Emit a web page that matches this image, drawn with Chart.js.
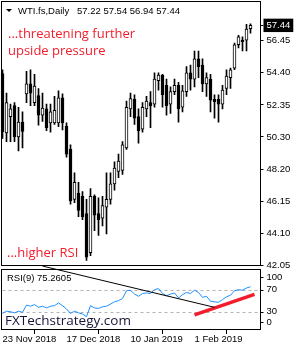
<!DOCTYPE html>
<html><head><meta charset="utf-8">
<script src="https://cdn.jsdelivr.net/npm/chart.js@4/dist/chart.umd.min.js"></script>
<style>html,body{margin:0;padding:0;background:#fff}canvas{display:block}</style>
</head><body>
<canvas id="c" width="300" height="350"></canvas>
<script>
const dates = ['23 Nov 2018','26 Nov 2018','27 Nov 2018','28 Nov 2018','29 Nov 2018','30 Nov 2018',
 '3 Dec 2018','4 Dec 2018','5 Dec 2018','6 Dec 2018','7 Dec 2018','10 Dec 2018','11 Dec 2018','12 Dec 2018','13 Dec 2018','14 Dec 2018',
 '17 Dec 2018','18 Dec 2018','19 Dec 2018','20 Dec 2018','21 Dec 2018','24 Dec 2018','26 Dec 2018','27 Dec 2018','28 Dec 2018','31 Dec 2018',
 '2 Jan 2019','3 Jan 2019','4 Jan 2019','7 Jan 2019','8 Jan 2019','9 Jan 2019','10 Jan 2019','11 Jan 2019','14 Jan 2019','15 Jan 2019',
 '16 Jan 2019','17 Jan 2019','18 Jan 2019','21 Jan 2019','22 Jan 2019','23 Jan 2019','24 Jan 2019','25 Jan 2019','28 Jan 2019','29 Jan 2019',
 '30 Jan 2019','31 Jan 2019','1 Feb 2019','4 Feb 2019','5 Feb 2019','6 Feb 2019','7 Feb 2019','8 Feb 2019','11 Feb 2019','12 Feb 2019',
 '13 Feb 2019','14 Feb 2019','15 Feb 2019','18 Feb 2019','19 Feb 2019','20 Feb 2019','21 Feb 2019'];

const open  = [54.35,50.55,51.60,52.30,50.30,51.25,53.05,53.70,52.50,52.95,51.70,52.10,51.20,51.20,51.20,52.80,
 51.00,49.50,46.30,46.70,46.50,45.40,42.90,46.50,45.40,45.10,45.80,46.30,47.30,48.10,48.15,49.60,52.10,52.70,51.60,50.80,
 52.10,52.50,52.40,53.90,54.25,53.60,52.40,53.20,53.60,52.20,53.20,54.40,54.00,55.30,54.90,53.70,54.00,52.70,52.70,52.40,
 53.40,54.10,54.70,56.20,56.50,56.50,57.22];
const high  = [54.60,53.10,52.40,52.50,52.20,51.90,54.50,54.60,54.30,53.40,53.10,52.40,52.40,52.90,53.25,53.05,
 51.20,49.80,48.00,47.40,46.80,46.30,47.00,46.60,46.40,46.50,48.00,48.00,48.70,49.20,50.00,52.60,53.10,53.00,52.10,52.50,
 52.90,53.20,54.40,54.40,54.30,54.00,53.50,54.00,53.80,53.60,54.80,54.90,55.80,55.80,55.30,54.40,54.30,53.00,53.00,53.60,
 54.60,54.70,56.30,56.80,56.70,57.50,57.54];
const low   = [50.20,50.00,50.00,50.00,49.40,49.60,52.50,52.30,52.30,51.05,51.30,50.70,50.60,51.10,50.95,50.75,
 49.00,46.00,46.10,45.20,45.00,42.40,42.70,44.30,44.00,44.60,44.10,46.00,46.90,47.70,47.90,49.50,51.60,51.10,49.90,50.60,
 51.60,50.90,52.20,53.30,52.20,51.70,51.80,53.00,51.25,51.90,52.90,53.30,53.50,54.10,53.20,52.90,51.90,51.50,51.25,52.10,
 53.00,53.40,54.60,56.00,55.80,55.80,56.94];
const close = [50.63,52.50,52.10,50.30,51.25,50.65,53.70,53.10,53.55,51.70,52.15,50.90,51.90,52.00,52.80,51.20,
 49.20,46.20,47.40,45.60,45.20,42.60,46.50,45.30,45.00,45.90,46.30,47.30,48.30,48.75,49.80,52.20,52.75,51.50,50.70,52.20,
 52.60,52.30,54.00,54.25,53.00,52.30,53.20,53.60,52.10,53.25,54.40,54.00,55.30,54.80,53.70,54.10,52.65,52.55,52.40,53.30,
 54.20,54.60,56.20,56.70,56.40,57.20,57.44];
const rsi9  = [27,31,30,28,31,29,42,40,43,38,40,37,40,41,46,41,
 35,27,31,28,26,21,41,37,36,39,40,44,48,50,54,68,69,62,58,63,
 64,63,70,72,63,59,62,64,55,61,65,63,69,65,56,58,49,48,47,52,
 57,60,68,70,69,73,75.2605];

const priceTicks = [57.44,56.45,54.40,52.35,50.30,48.20,46.15,44.10,42.05];
const rsiTicks = [100,70,30,0];
const rsiLevels = [70,30];
const dateTickIdx = [0,16,32,48];
const lastBar = [57.22,57.54,56.94,57.44];
const resistIdx = [10,53], resistVal = [112.8,38.0];
const supportIdx = [48,63], supportVal = [24.3,61.5];
const emptySlots = 2;

const N = dates.length + emptySlots;
const labels = dates.concat(new Array(emptySlots).fill(''));
const pad = a => a.concat(new Array(N - a.length).fill(null));
const seg = (idx, val) => { const d = new Array(N).fill(null); idx.forEach((k,j)=>d[k]=val[j]); return d; };

const AX = '"Liberation Sans", Arial, sans-serif';
const RED = '#f21d2c';

const deco = {
  id: 'deco',
  beforeDatasetsDraw(chart) {
    const {ctx, chartArea: a, scales: {rsi}} = chart;
    ctx.save();
    ctx.strokeStyle = '#b4b4b4'; ctx.lineWidth = 1; ctx.setLineDash([3,3]);
    rsiLevels.forEach(v => {
      const py = Math.round(rsi.getPixelForValue(v)) + 0.5;
      ctx.beginPath(); ctx.moveTo(a.left + 2, py); ctx.lineTo(a.right - 1, py); ctx.stroke();
    });
    ctx.restore();
  },
  afterDraw(chart) {
    const {ctx, chartArea: a, scales: {rsi}} = chart;
    ctx.save();
    ctx.strokeStyle = '#000'; ctx.lineWidth = 1;
    const mainBottom = 265.5, rsiTop = 269.5, rsiBottom = 329.5;
    ctx.strokeRect(1.5, 1.5, a.right - 1.5, mainBottom - 1.5);
    ctx.strokeRect(1.5, rsiTop, a.right - 1.5, rsiBottom - rsiTop);
    ctx.font = '9.5px ' + AX; ctx.fillStyle = '#000'; ctx.textBaseline = 'middle'; ctx.textAlign = 'left';
    rsiTicks.forEach(v => {
      let py = rsi.getPixelForValue(v);
      if (v === 100) py += 4; if (v === 0) py -= 6;
      ctx.fillText(String(v), a.right + 6, py);
      ctx.beginPath(); ctx.moveTo(a.right, Math.round(py) + 0.5); ctx.lineTo(a.right + 3, Math.round(py) + 0.5); ctx.stroke();
    });
    ctx.beginPath(); ctx.moveTo(6, 9); ctx.lineTo(12, 9); ctx.lineTo(9, 12); ctx.closePath(); ctx.fill();
    ctx.textBaseline = 'alphabetic';
    ctx.fillText('WTI.fs,Daily', 18, 14);
    ctx.fillText(lastBar.map(v => v.toFixed(2)).join(' '), 77, 14);
    ctx.fillText('RSI(9) ' + rsi9[rsi9.length - 1].toFixed(4), 7, 281);
    ctx.fillStyle = RED; ctx.font = '13px "Open Sans", sans-serif';
    ctx.fillText('...threatening further', 8, 38);
    ctx.fillText('upside pressure', 8, 55);
    ctx.fillText('...higher RSI', 7, 257);
    ctx.fillStyle = '#161638'; ctx.font = '13.5px "Open Sans", sans-serif';
    ctx.fillText('FXTechstrategy.com', 5, 325);
    ctx.restore();
  }
};

new Chart(document.getElementById('c'), {
  type: 'bar',
  data: {
    labels,
    datasets: [
      { type: 'bar', data: pad(low.map((l,i)=>[l, high[i]])), backgroundColor: '#000', borderWidth: 0,
        barThickness: 1, grouped: false, order: 3, yAxisID: 'y' },
      { type: 'bar', data: pad(open.map((o,i)=>[o, close[i]])),
        backgroundColor: pad(open.map((o,i)=> close[i] >= o ? '#fff' : '#000')),
        borderColor: '#000', borderWidth: 1, borderSkipped: false, barThickness: 3, minBarLength: 1,
        grouped: false, order: 2, yAxisID: 'y' },
      { type: 'line', data: pad(rsi9), borderColor: '#1e90ff', borderWidth: 1, pointRadius: 0,
        tension: 0, order: 1, yAxisID: 'rsi' },
      { type: 'line', data: seg(resistIdx, resistVal), borderColor: '#000', borderWidth: 1, pointRadius: 0,
        spanGaps: true, order: 0, yAxisID: 'rsi', clip: false },
      { type: 'line', data: seg(supportIdx, supportVal), borderColor: RED, borderWidth: 3.5, pointRadius: 0,
        spanGaps: true, order: 0, yAxisID: 'rsi', borderCapStyle: 'butt', clip: false }
    ]
  },
  options: {
    responsive: false, animation: false, devicePixelRatio: 1, events: [],
    layout: { padding: { left: 0.5, top: 1, right: 0, bottom: 0 } },
    plugins: { legend: { display: false }, tooltip: { enabled: false } },
    scales: {
      x: {
        type: 'category', offset: true,
        afterBuildTicks: s => { s.ticks = dateTickIdx.map(v => ({ value: v })); },
        afterFit: s => { s.height = 20; },
        border: { display: false },
        grid: { drawOnChartArea: false, drawTicks: true, tickLength: 4, color: '#000' },
        ticks: { autoSkip: false, maxRotation: 0, align: 'start', padding: 0, color: '#000',
                 font: { family: AX, size: 9.5 } }
      },
      y: {
        position: 'right', min: 37.944, max: 58.506,
        afterBuildTicks: s => { s.ticks = priceTicks.map(v => ({ value: v })); },
        afterFit: s => { s.width = 39.5; },
        border: { display: false },
        grid: { drawOnChartArea: false, drawTicks: true, tickLength: 3, color: '#000' },
        ticks: { autoSkip: false, padding: 3, font: { family: AX, size: 9.5 },
                 callback: v => Number(v).toFixed(2),
                 color: c => (c.tick && c.tick.value === lastBar[3]) ? '#fff' : '#000',
                 showLabelBackdrop: true,
                 backdropColor: c => (c.tick && c.tick.value === lastBar[3]) ? '#000' : 'rgba(0,0,0,0)',
                 backdropPadding: { left: 3, right: 3, top: 1, bottom: 1 } }
      },
      rsi: { display: false, position: 'right', min: -3.1, max: 579.2 }
    }
  },
  plugins: [deco]
});
</script>
</body></html>
